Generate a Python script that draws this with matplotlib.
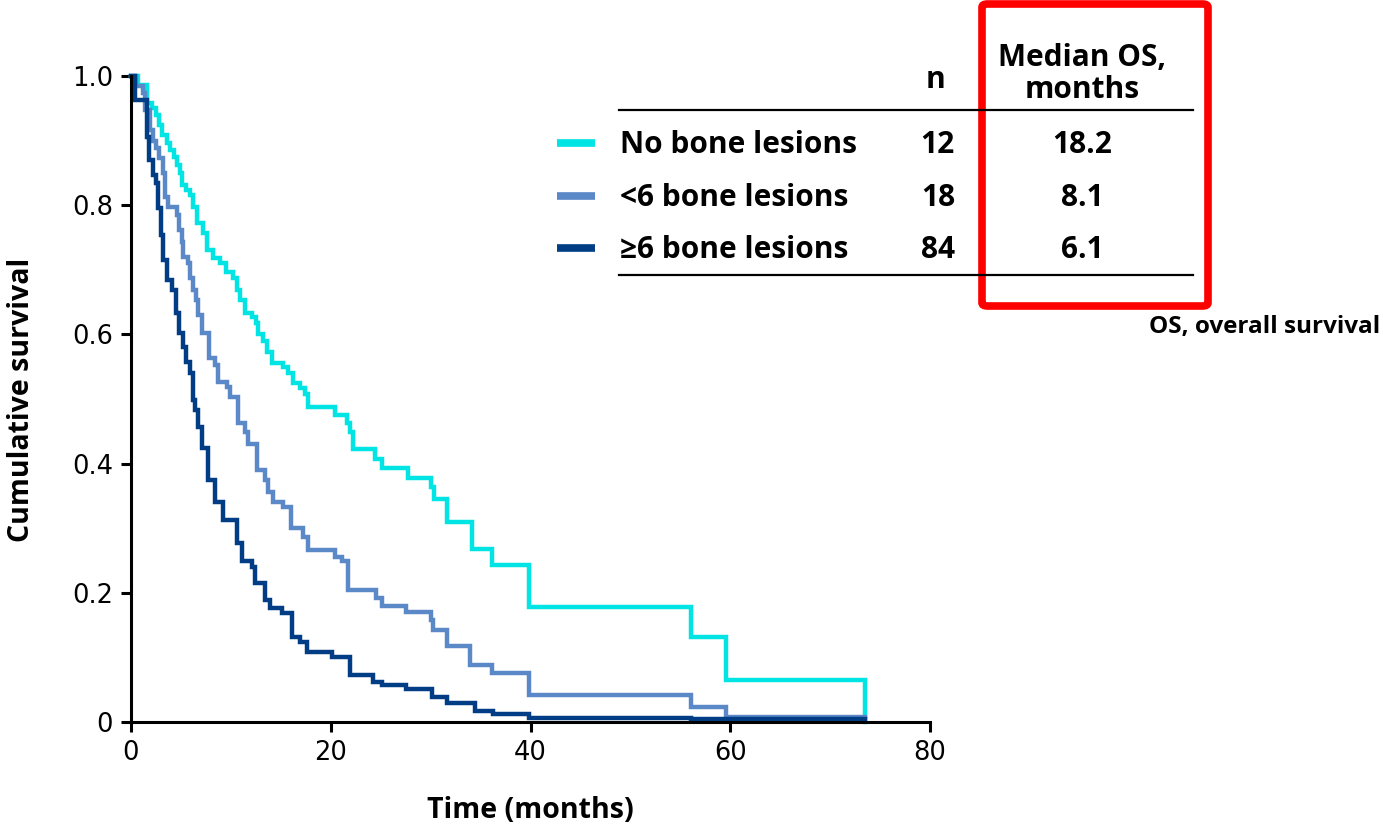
import matplotlib.pyplot as plt
import numpy as np
from matplotlib.lines import Line2D
from matplotlib.patches import FancyBboxPatch

# Kaplan-Meier steps: event times (months) and survival after each drop
t_none = [0.7, 1.6, 2.1, 2.5, 2.8, 3.1, 3.6, 3.9, 4.3, 4.6, 4.9, 5.1, 5.5, 5.9, 6.2, 6.6, 7.2, 7.6,
          8.2, 8.9, 9.5, 10.2, 10.6, 10.9, 11.4, 12.1, 12.5, 12.7, 13.2, 13.6, 14.1, 15.2, 15.7,
          16.2, 16.9, 17.4, 17.7, 20.4, 21.6, 21.9, 22.2, 24.4, 25.1, 27.7, 30.0, 30.3, 31.6,
          34.1, 36.1, 39.8, 56.1, 59.6, 73.5]
s_none = [0.986, 0.958, 0.95, 0.94, 0.924, 0.909, 0.896, 0.885, 0.875, 0.862, 0.85, 0.831, 0.824,
          0.816, 0.797, 0.772, 0.757, 0.731, 0.718, 0.71, 0.697, 0.687, 0.669, 0.653, 0.633, 0.627,
          0.618, 0.60, 0.59, 0.573, 0.556, 0.55, 0.54, 0.525, 0.517, 0.508, 0.488, 0.475, 0.463,
          0.449, 0.423, 0.407, 0.393, 0.378, 0.364, 0.345, 0.31, 0.268, 0.243, 0.178, 0.132,
          0.065, 0.0]

t_lt6 = [0.5, 1.2, 1.4, 1.9, 2.2, 2.5, 2.8, 3.2, 3.4, 3.7, 4.6, 4.8, 5.1, 5.2, 5.7, 5.9, 6.2, 6.5,
         6.7, 7.1, 7.8, 8.4, 8.7, 9.6, 9.9, 10.7, 11.4, 11.7, 12.6, 13.4, 13.7, 14.2, 15.2, 16.0,
         17.2, 17.7, 20.4, 21.1, 21.7, 24.5, 25.1, 27.5, 30.0, 30.2, 31.6, 33.9, 36.1, 39.8,
         56.1, 59.6]
s_lt6 = [0.985, 0.973, 0.947, 0.916, 0.90, 0.889, 0.873, 0.85, 0.813, 0.797, 0.785, 0.762, 0.743,
         0.72, 0.71, 0.687, 0.669, 0.653, 0.63, 0.602, 0.563, 0.552, 0.526, 0.518, 0.503, 0.463,
         0.449, 0.43, 0.39, 0.375, 0.356, 0.34, 0.333, 0.30, 0.286, 0.266, 0.255, 0.25, 0.204,
         0.192, 0.18, 0.17, 0.158, 0.142, 0.118, 0.088, 0.076, 0.042, 0.023, 0.008]

t_ge6 = [0.4, 1.6, 1.8, 2.2, 2.5, 2.7, 3.0, 3.2, 3.6, 4.1, 4.5, 4.8, 5.2, 5.5, 5.9, 6.2, 6.4, 6.7,
         7.1, 7.7, 8.4, 9.2, 10.6, 11.1, 12.1, 12.4, 13.4, 13.9, 15.1, 16.1, 16.9, 17.6, 20.1,
         21.9, 24.2, 25.1, 27.5, 30.1, 31.6, 34.4, 36.2, 39.8, 56.1]
s_ge6 = [0.963, 0.905, 0.87, 0.847, 0.834, 0.796, 0.754, 0.715, 0.684, 0.669, 0.633, 0.602, 0.58,
         0.557, 0.54, 0.498, 0.483, 0.457, 0.424, 0.375, 0.341, 0.313, 0.277, 0.25, 0.24, 0.215,
         0.189, 0.176, 0.168, 0.132, 0.124, 0.108, 0.10, 0.073, 0.062, 0.057, 0.051, 0.039,
         0.029, 0.017, 0.012, 0.006, 0.004]
t_end = 73.5

groups = ['No bone lesions', '<6 bone lesions', '\u22656 bone lesions']
n_pts = ['12', '18', '84']
median_os = ['18.2', '8.1', '6.1']
colors = ['#00E4E4', '#5B88C6', '#003D85']

x_ticks = [0, 20, 40, 60, 80]
y_ticks = [0, 0.2, 0.4, 0.6, 0.8, 1.0]
y_ticklabels = ['0', '0.2', '0.4', '0.6', '0.8', '1.0']

W, H = 1383, 832
lab_font = ['Open Sans', 'DejaVu Sans']


def fp(x, y):
    # pixel position -> figure fraction
    return x / W, 1 - y / H


fig = plt.figure(figsize=(W / 100, H / 100), dpi=100)
ax = fig.add_axes([131 / W, 1 - 722 / H, (930 - 131) / W, (722 - 76) / H])

curves = [(t_none, s_none), (t_lt6, s_lt6), (t_ge6, s_ge6)]
for (t, s), c in zip(curves, colors):
    tt = np.concatenate([[0], t, [t_end]])
    ss = np.concatenate([[1.0], s, [s[-1]]])
    ax.step(tt, ss, where='post', color=c, lw=3.2, solid_joinstyle='miter', clip_on=False)

ax.set_xlim(0, 80)
ax.set_ylim(0, 1.0)
ax.set_xticks(x_ticks)
ax.set_xticklabels([str(v) for v in x_ticks])
ax.set_yticks(y_ticks)
ax.set_yticklabels(y_ticklabels)
ax.tick_params(direction='out', length=7, width=2.2, labelsize=18.5, pad=6)
for sp in ['top', 'right']:
    ax.spines[sp].set_visible(False)
for sp in ['left', 'bottom']:
    ax.spines[sp].set_linewidth(2.2)

fig.text(*fp(530, 810), 'Time (months)', ha='center', va='center', fontsize=20.5,
         fontweight='bold', family=lab_font)
fig.text(*fp(22, 400), 'Cumulative survival', ha='center', va='center', rotation=90,
         fontsize=20.5, fontweight='bold', family=lab_font)

# table to the upper right
fs = 21.5
fig.text(*fp(936, 80), 'n', ha='center', va='center', fontsize=fs, fontweight='bold', family=lab_font)
fig.text(*fp(1082, 74), 'Median OS,\nmonths', ha='center', va='center', fontsize=fs,
         fontweight='bold', family=lab_font, linespacing=1.05)
for yy in [110, 275]:
    fig.add_artist(Line2D([619 / W, 1193 / W], [1 - yy / H] * 2, color='black', lw=1.6))
row_y = [145, 198, 250]
for g, n, m, c, yy in zip(groups, n_pts, median_os, colors, row_y):
    fig.add_artist(Line2D([557 / W, 595 / W], [1 - (yy - 2) / H] * 2, color=c, lw=5.5,
                          solid_capstyle='butt'))
    fig.text(*fp(620, yy), g, ha='left', va='center', fontsize=fs, fontweight='bold', family=lab_font)
    fig.text(*fp(955, yy), n, ha='right', va='center', fontsize=fs, fontweight='bold', family=lab_font)
    fig.text(*fp(1082, yy), m, ha='center', va='center', fontsize=fs, fontweight='bold', family=lab_font)

box = FancyBboxPatch(fp(982, 306), (1208 - 982) / W, (306 - 4) / H, boxstyle='round,pad=0,rounding_size=0.004',
                     transform=fig.transFigure, fill=False, edgecolor='#FF0000', lw=5.5)
fig.add_artist(box)
fig.text(*fp(1380, 327), 'OS, overall survival', ha='right', va='center', fontsize=17.5,
         fontweight='bold', family=lab_font)

fig.savefig('out.png', dpi=100)
